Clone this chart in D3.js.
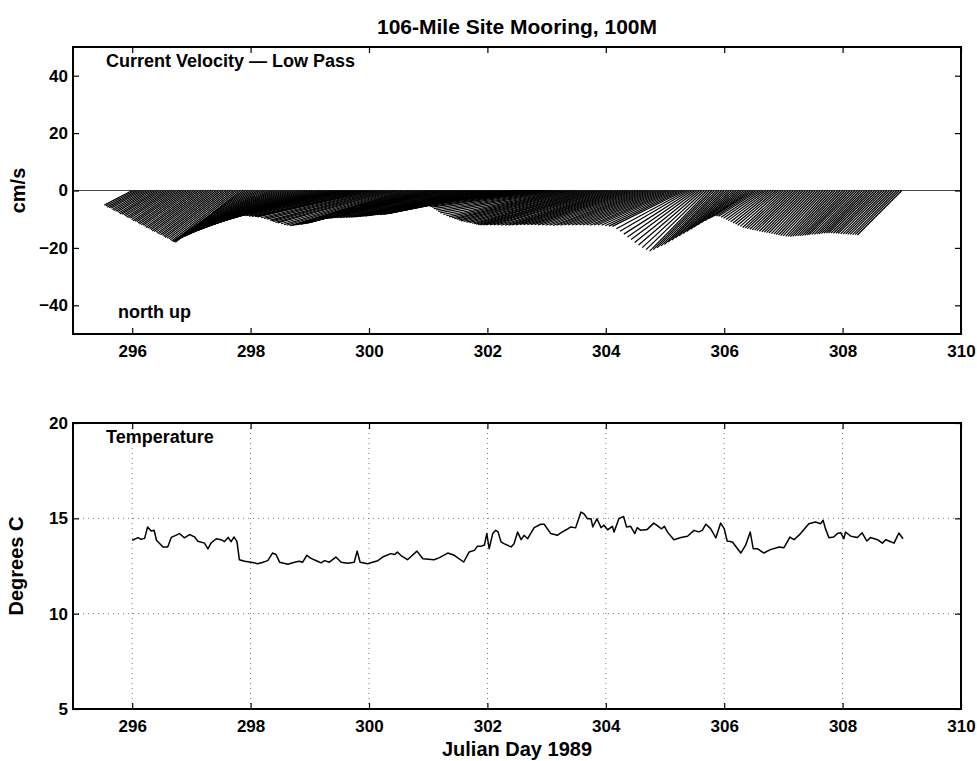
<!DOCTYPE html>
<html>
<head>
<meta charset="utf-8">
<script src="https://cdn.jsdelivr.net/npm/d3@7"></script>
<style>
  body { margin: 0; background: #fff; }
  text { font-family: "Liberation Sans", Arial, sans-serif; font-weight: bold; fill: #000; }
</style>
</head>
<body>
<svg id="chart" width="977" height="761"></svg>
<script>
// Axis ticks
const dayTicks = [296, 298, 300, 302, 304, 306, 308, 310];
const velTicks = [-40, -20, 0, 20, 40];
const tempTicks = [5, 10, 15, 20];
const tempGrid = [10, 15];

// Low-pass current, one stick per hour from day 296.0 (cm/s, east / north)
const stickStart = 296;
const stickStep = 1 / 24;
const stickU = [
  -9.7, -10.0, -10.4, -10.6, -10.8, -11.2, -11.6, -11.8, -12.0, -12.4,
  -12.8, -13.0, -13.2, -13.6, -14.0, -14.2, -14.4, -14.8, -15.2, -15.4,
  -15.6, -16.0, -16.4, -16.6, -16.8, -17.2, -17.6, -17.8, -18.0, -18.4,
  -18.8, -19.0, -19.2, -19.6, -20.0, -20.2, -20.4, -20.8, -21.2, -21.4,
  -21.6, -22.0, -22.4, -22.6, -22.8,
  -24.0,
  -25.3, -25.8, -26.2, -26.6, -27.0, -27.5, -27.9, -28.4, -28.8, -29.2,
  -29.6, -30.1, -30.5, -31.0, -31.4, -31.8, -32.2, -32.7, -33.1, -33.5,
  -33.9, -34.4, -34.8, -35.2, -35.6, -36.1, -36.5, -37.0, -37.4, -37.8,
  -38.2, -38.7, -39.1, -39.5, -39.9,
  -40.0,
  -40.2, -40.0, -39.7, -40.1, -40.4, -40.2, -40.0, -39.8, -39.6, -40.0,
  -40.3, -40.2, -40.1, -40.0, -39.8, -40.1, -40.5, -40.2, -40.0, -39.9,
  -39.7, -40.0, -40.2, -40.3, -40.4, -40.1, -39.9, -39.8, -39.6, -39.9,
  -40.1, -40.2, -40.3, -40.1, -39.8, -39.9, -40.0, -40.2, -40.4, -40.3,
  -40.2, -40.0, -39.7, -39.8, -39.9, -40.1, -40.3, -40.4, -40.5, -40.2,
  -40.0, -39.8, -39.6, -39.7, -39.8, -40.0, -40.2, -40.1, -40.1, -40.0,
  -39.9, -40.2, -40.4, -40.3, -40.2, -39.9, -39.7, -39.8, -39.8, -40.0,
  -40.3, -40.2, -40.0, -39.8, -39.6, -39.9, -40.1, -40.3, -40.4, -40.3,
  -40.2, -40.0, -39.9, -39.8, -39.7, -39.9, -40.0, -40.2, -40.3, -40.4,
  -40.5, -40.3, -40.1, -40.0, -39.8, -39.9, -39.9, -40.0, -40.2, -40.1,
  -40.0, -39.8, -39.7, -39.9, -40.1, -40.2, -40.3, -40.1, -40.0,
  -39.5,
  -39.1, -38.6, -38.2, -37.7, -37.3, -36.9, -36.5, -36.0, -35.6, -35.1,
  -34.7, -34.3, -33.9, -33.4, -33.0, -32.5, -32.1, -31.7, -31.3, -30.8,
  -30.4, -29.9, -29.5, -29.0, -28.6, -28.2, -27.8, -27.3, -26.9, -26.4,
  -26.0, -25.6, -25.2, -24.7, -24.3, -23.8, -23.4, -23.0, -22.6, -22.1,
  -21.7, -21.2, -20.8, -20.4, -20.0, -19.5, -19.1, -18.6, -18.2, -17.8,
  -17.4, -16.9, -16.5, -16.0, -15.6, -15.2, -14.8, -14.3, -13.9,
  -13.9,
  -13.9, -13.9, -14.0, -14.0, -14.0, -14.0, -14.1, -14.1, -14.1, -14.1,
  -14.2, -14.2, -14.2, -14.2, -14.3, -14.3, -14.3, -14.3, -14.4, -14.4,
  -14.4, -14.4, -14.5, -14.5, -14.5, -14.5, -14.6, -14.6, -14.7, -14.7,
  -14.7, -14.7, -14.8, -14.8, -14.8, -14.8, -14.9, -14.9, -14.9, -14.9,
  -15.0, -15.0, -15.0, -15.0, -15.1, -15.1, -15.1, -15.1, -15.2, -15.2,
  -15.2, -15.2, -15.3, -15.3, -15.3, -15.3, -15.4, -15.4, -15.4, -15.4,
  -15.5
];
const stickV = [
  -5.1, -5.4, -5.8, -6.0, -6.2, -6.6, -7.0, -7.2, -7.4, -7.8,
  -8.2, -8.3, -8.5, -8.9, -9.3, -9.5, -9.7, -10.1, -10.5, -10.7,
  -10.9, -11.3, -11.7, -11.9, -12.1, -12.5, -12.9, -13.1, -13.3, -13.7,
  -14.1, -14.3, -14.5, -14.9, -15.2, -15.4, -15.6, -16.0, -16.4, -16.6,
  -16.8, -17.2, -17.6, -17.8, -18.0,
  -17.9,
  -17.8, -17.6, -17.4, -17.2, -17.0, -16.8, -16.6, -16.4, -16.2, -16.0,
  -15.8, -15.6, -15.4, -15.2, -15.0, -14.8, -14.6, -14.4, -14.2, -14.1,
  -13.9, -13.7, -13.5, -13.4, -13.2, -13.0, -12.8, -12.7, -12.5, -12.3,
  -12.1, -11.9, -11.7, -11.6, -11.4,
  -11.0,
  -10.6, -10.3, -9.9, -9.6, -9.2, -8.9, -8.5, -8.6, -8.6, -8.7,
  -8.7, -8.8, -8.9, -9.0, -9.0, -9.1, -9.2, -9.5, -9.7, -10.0,
  -10.3, -10.6, -10.8, -11.1, -11.3, -11.6, -11.9, -12.1, -12.3, -12.2,
  -12.1, -12.0, -11.9, -11.8, -11.6, -11.5, -11.3, -11.1, -10.8, -10.6,
  -10.3, -10.1, -9.8, -9.7, -9.6, -9.6, -9.5, -9.5, -9.5, -9.5,
  -9.4, -9.4, -9.3, -9.3, -9.2, -9.2, -9.1, -9.0, -8.9, -8.9,
  -8.8, -8.7, -8.6, -8.5, -8.4, -8.4, -8.3, -8.2, -8.1, -7.9,
  -7.7, -7.3, -6.8, -6.4, -6.0, -5.8, -5.6, -5.4, -5.2, -5.0,
  -4.8, -4.7, -4.6, -4.9, -5.2, -5.5, -5.8, -6.3, -6.8, -7.3,
  -7.8, -8.3, -8.8, -9.2, -9.5, -9.8, -10.0, -10.3, -10.6, -10.8,
  -11.0, -11.2, -11.4, -11.6, -11.7, -11.9, -12.0, -12.0, -12.0,
  -12.0,
  -12.0, -12.0, -12.1, -12.1, -12.1, -12.0, -12.0, -11.9, -11.9, -11.9,
  -11.9, -11.9, -12.0, -12.0, -12.1, -12.1, -12.2, -12.1, -12.1, -12.0,
  -12.0, -12.0, -12.0, -12.0, -12.0, -12.0, -12.1, -12.0, -12.0, -12.1,
  -12.3, -12.4, -12.5, -13.3, -14.2, -15.2, -16.2, -17.1, -18.1, -19.0,
  -19.9, -20.6, -21.1, -20.6, -20.0, -19.4, -18.8, -18.0, -17.3, -16.5,
  -15.8, -15.0, -14.3, -13.5, -12.7, -11.9, -11.2, -10.5, -9.8,
  -9.3,
  -8.9, -8.9, -9.0, -9.3, -9.7, -10.1, -10.5, -10.9, -11.3, -11.7,
  -12.1, -12.5, -12.9, -13.1, -13.3, -13.5, -13.7, -13.8, -14.0, -14.2,
  -14.4, -14.5, -14.7, -14.8, -15.0, -15.2, -15.4, -15.5, -15.7, -15.8,
  -16.0, -16.0, -16.1, -16.0, -15.9, -15.8, -15.8, -15.7, -15.6, -15.5,
  -15.4, -15.3, -15.3, -15.2, -15.1, -15.0, -14.9, -14.8, -14.8, -14.8,
  -14.9, -14.9, -15.0, -15.1, -15.2, -15.2, -15.3, -15.3, -15.4, -15.4,
  -15.5
];

// Temperature at 100 m
const tempDay = [
  296.00, 296.10, 296.15, 296.21, 296.26, 296.32, 296.37, 296.41, 296.52, 296.60, 296.66, 296.80,
  296.88, 296.97, 297.05, 297.11, 297.22, 297.28, 297.33, 297.42, 297.50, 297.56, 297.62, 297.67,
  297.72, 297.77, 297.81, 297.90, 298.01, 298.12, 298.21, 298.29, 298.37, 298.43, 298.49, 298.63,
  298.74, 298.82, 298.88, 298.95, 299.02, 299.13, 299.19, 299.25, 299.33, 299.44, 299.53, 299.64,
  299.75, 299.80, 299.85, 299.98, 300.06, 300.15, 300.23, 300.37, 300.43, 300.48, 300.54, 300.65,
  300.71, 300.81, 300.91, 301.10, 301.19, 301.33, 301.44, 301.60, 301.69, 301.78, 301.83, 301.89,
  301.95, 301.99, 302.03, 302.09, 302.14, 302.18, 302.23, 302.28, 302.40, 302.45, 302.51, 302.57,
  302.62, 302.68, 302.79, 302.90, 302.96, 303.07, 303.18, 303.24, 303.33, 303.41, 303.49, 303.58,
  303.63, 303.69, 303.75, 303.78, 303.85, 303.92, 303.97, 304.03, 304.11, 304.14, 304.22, 304.30,
  304.35, 304.42, 304.49, 304.53, 304.59, 304.70, 304.81, 304.87, 304.94, 304.99, 305.04, 305.15,
  305.27, 305.38, 305.49, 305.57, 305.63, 305.69, 305.77, 305.86, 305.94, 306.00, 306.05, 306.14,
  306.28, 306.36, 306.44, 306.49, 306.56, 306.67, 306.78, 306.93, 307.01, 307.11, 307.18, 307.29,
  307.43, 307.54, 307.63, 307.67, 307.71, 307.77, 307.85, 307.91, 307.97, 308.02, 308.05, 308.14,
  308.25, 308.33, 308.41, 308.47, 308.59, 308.67, 308.73, 308.87, 308.95, 309.02
];
const tempC = [
  13.85, 13.99, 13.90, 13.95, 14.55, 14.33, 14.38, 13.85, 13.50, 13.50, 14.00, 14.20,
  13.98, 14.15, 14.03, 13.80, 13.70, 13.40, 13.70, 13.93, 13.88, 13.78, 14.00, 13.78,
  14.02, 13.78, 12.83, 12.75, 12.70, 12.62, 12.70, 12.78, 13.18, 13.10, 12.70, 12.59,
  12.70, 12.75, 12.70, 13.06, 12.90, 12.75, 12.66, 12.78, 12.70, 12.97, 12.70, 12.64,
  12.70, 13.28, 12.70, 12.62, 12.70, 12.78, 12.97, 13.15, 13.10, 13.23, 13.05, 12.83,
  13.00, 13.28, 12.88, 12.83, 12.94, 13.18, 13.06, 12.71, 13.23, 13.32, 13.53, 13.53,
  13.60, 14.20, 13.41, 14.20, 14.37, 14.29, 13.76, 13.67, 13.50, 13.67, 14.28, 13.88,
  14.11, 13.93, 14.51, 14.69, 14.69, 14.20, 14.11, 14.24, 14.40, 14.55, 14.50, 15.33,
  15.24, 14.98, 14.98, 14.55, 14.98, 14.51, 14.64, 14.40, 14.58, 14.28, 14.98, 15.10,
  14.55, 14.58, 14.20, 14.51, 14.37, 14.42, 14.75, 14.62, 14.45, 14.58, 14.29, 13.88,
  13.99, 14.06, 14.37, 14.29, 14.37, 14.69, 14.46, 13.98, 14.75, 14.46, 13.81, 13.76,
  13.18, 13.58, 14.28, 13.41, 13.41, 13.18, 13.36, 13.50, 13.46, 14.02, 13.88, 14.20,
  14.72, 14.81, 14.72, 14.90, 14.46, 13.98, 14.02, 14.20, 14.24, 13.93, 14.28, 14.06,
  13.99, 14.24, 13.81, 13.99, 13.88, 13.70, 13.88, 13.70, 14.23, 13.93
];

// Layout
const left = 73, right = 961;
const top1 = 47, bottom1 = 334;
const top2 = 423, bottom2 = 709;

const svg = d3.select("#chart");

const x = d3.scaleLinear().domain([295, 310]).range([left, right]);
const yVel = d3.scaleLinear().domain([-50, 50]).range([bottom1, top1]);
const yTemp = d3.scaleLinear().domain([5, 20]).range([bottom2, top2]);

// Title
svg.append("text")
    .attr("x", (left + right) / 2)
    .attr("y", 34)
    .attr("text-anchor", "middle")
    .style("font-size", "21px")
    .text("106-Mile Site Mooring, 100M");

// ---- Upper panel: current sticks ----
const velPanel = svg.append("g");

velPanel.append("line")
    .attr("x1", left).attr("x2", right)
    .attr("y1", yVel(0)).attr("y2", yVel(0))
    .attr("stroke", "#444")
    .attr("stroke-width", 1);

// one cm/s east is drawn as long as one cm/s north
const perUnit = yVel(0) - yVel(1);
const sticks = stickU.map((u, i) => ({ t: stickStart + i * stickStep, u: u, v: stickV[i] }));

velPanel.append("g")
    .selectAll("line")
    .data(sticks)
    .enter()
    .append("line")
    .attr("x1", d => x(d.t))
    .attr("y1", yVel(0))
    .attr("x2", d => x(d.t) + d.u * perUnit)
    .attr("y2", d => yVel(d.v))
    .attr("stroke", "#000")
    .attr("stroke-width", 1.2);

function frame(g, y, yTop, yBottom, yTickVals) {
    g.append("g")
        .attr("transform", `translate(0,${yBottom})`)
        .call(d3.axisBottom(x).tickValues(dayTicks).tickSize(-6).tickPadding(11).tickFormat(d3.format("d")))
        .call(a => a.select(".domain").remove());
    g.append("g")
        .attr("transform", `translate(0,${yTop})`)
        .call(d3.axisTop(x).tickValues(dayTicks).tickSize(-6).tickFormat(""))
        .call(a => a.select(".domain").remove());
    g.append("g")
        .attr("transform", `translate(${left},0)`)
        .call(d3.axisLeft(y).tickValues(yTickVals).tickSize(-6).tickPadding(5).tickFormat(d3.format("d")))
        .call(a => a.select(".domain").remove());
    g.append("g")
        .attr("transform", `translate(${right},0)`)
        .call(d3.axisRight(y).tickValues(yTickVals).tickSize(-6).tickFormat(""))
        .call(a => a.select(".domain").remove());
    g.selectAll(".tick text").style("font-size", "17px").attr("font-family", null);
    g.selectAll(".tick line").attr("stroke", "#000").attr("stroke-width", 1.2);
    g.append("rect")
        .attr("x", left).attr("y", yTop)
        .attr("width", right - left).attr("height", yBottom - yTop)
        .attr("fill", "none")
        .attr("stroke", "#000")
        .attr("stroke-width", 2);
}

frame(velPanel, yVel, top1, bottom1, velTicks);

velPanel.append("text")
    .attr("x", 106).attr("y", 67)
    .style("font-size", "18px")
    .text("Current Velocity \u2014 Low Pass");

velPanel.append("text")
    .attr("x", 118).attr("y", 318)
    .style("font-size", "18px")
    .text("north up");

velPanel.append("text")
    .attr("transform", `translate(25,${yVel(0)}) rotate(-90)`)
    .attr("text-anchor", "middle")
    .style("font-size", "20px")
    .text("cm/s");

// ---- Lower panel: temperature ----
const tempPanel = svg.append("g");

tempPanel.append("g")
    .selectAll("line")
    .data(dayTicks.filter(d => d < 310))
    .enter()
    .append("line")
    .attr("x1", d => x(d)).attr("x2", d => x(d))
    .attr("y1", top2).attr("y2", bottom2)
    .attr("stroke", "#777")
    .attr("stroke-width", 1)
    .attr("stroke-dasharray", "1,4");

tempPanel.append("g")
    .selectAll("line")
    .data(tempGrid)
    .enter()
    .append("line")
    .attr("x1", left).attr("x2", right)
    .attr("y1", d => yTemp(d)).attr("y2", d => yTemp(d))
    .attr("stroke", "#777")
    .attr("stroke-width", 1)
    .attr("stroke-dasharray", "1,4");

const temps = tempDay.map((t, i) => ({ t: t, c: tempC[i] }));

tempPanel.append("path")
    .datum(temps)
    .attr("fill", "none")
    .attr("stroke", "#000")
    .attr("stroke-width", 1.5)
    .attr("stroke-linejoin", "round")
    .attr("d", d3.line().x(d => x(d.t)).y(d => yTemp(d.c)));

frame(tempPanel, yTemp, top2, bottom2, tempTicks);

tempPanel.append("text")
    .attr("x", 106).attr("y", 443)
    .style("font-size", "18px")
    .text("Temperature");

tempPanel.append("text")
    .attr("transform", `translate(23,${(top2 + bottom2) / 2}) rotate(-90)`)
    .attr("text-anchor", "middle")
    .style("font-size", "20px")
    .text("Degrees C");

svg.append("text")
    .attr("x", (left + right) / 2)
    .attr("y", 756)
    .attr("text-anchor", "middle")
    .style("font-size", "20px")
    .text("Julian Day 1989");
</script>
</body>
</html>
